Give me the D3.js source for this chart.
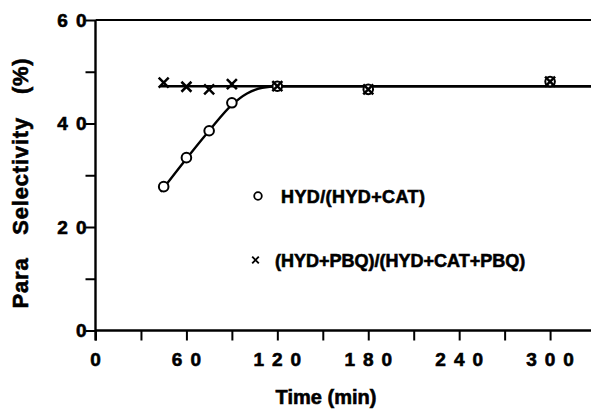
<!DOCTYPE html>
<html>
<head>
<meta charset="utf-8">
<script src="https://cdn.jsdelivr.net/npm/d3@7"></script>
<style>
  body { margin: 0; background: #fff; }
  text { font-family: "Liberation Sans", Arial, sans-serif; font-weight: bold; fill: #000;
         stroke: #000; stroke-width: 0.6px; }
</style>
</head>
<body>
<div id="chart"></div>
<script>
// data
const times = [45, 60, 75, 90, 120, 180, 300];
const hydCat = [27.8, 33.4, 38.6, 44.0, 47.2, 46.6, 48.1];   // circles
const hydPbq = [47.9, 47.1, 46.6, 47.6, 47.2, 46.6, 48.1];   // crosses
// fitted curves
const fitRiseT = [43, 60, 75, 90, 100, 110, 120, 327];
const fitRiseV = [26.8, 33.2, 38.6, 43.6, 45.8, 46.9, 47.2, 47.2];
const fitFlatT = [43, 327];
const fitFlatV = [47.2, 47.2];

const xTicks = [0, 30, 60, 90, 120, 150, 180, 210, 240, 270, 300];
const xLabels = [0, 60, 120, 180, 240, 300];
const yTicks = [0, 10, 20, 30, 40, 50, 60];
const yLabels = [0, 20, 40, 60];

const width = 591, height = 411;

const svg = d3.select('#chart').append('svg')
              .attr('width', width)
              .attr('height', height);

const x = d3.scaleLinear().domain([0, 327]).range([95.5, 591]);
const y = d3.scaleLinear().domain([0, 60]).range([330.5, 20]);

// axes
svg.append('g')
   .attr('transform', `translate(0,${y(0)})`)
   .call(d3.axisBottom(x).tickValues(xTicks).tickSize(10).tickFormat(''))
   .call(g => g.select('.domain').remove());
svg.append('g')
   .attr('transform', `translate(${x(0)},0)`)
   .call(d3.axisLeft(y).tickValues(yTicks).tickSize(10).tickFormat(''))
   .call(g => g.select('.domain').remove());
svg.selectAll('.tick line').attr('stroke', '#000').attr('stroke-width', 2);

// axis lines + top border
const frame = svg.append('g').attr('stroke', '#000').attr('stroke-width', 2.4);
frame.append('line').attr('x1', x(0)).attr('x2', width).attr('y1', y(0)).attr('y2', y(0));
frame.append('line').attr('x1', x(0)).attr('x2', x(0)).attr('y1', y(60)).attr('y2', y(0) + 10);
frame.append('line').attr('x1', x(0)).attr('x2', width).attr('y1', y(60)).attr('y2', y(60))
     .attr('stroke-width', 2);

// tick labels (wide letter spacing as in the print)
const ls = 8;
svg.append('g').selectAll('text')
   .data(xLabels).enter().append('text')
   .attr('x', d => x(d) + ls / 2)
   .attr('y', 365.5)
   .attr('text-anchor', 'middle')
   .style('font-size', '19px')
   .style('letter-spacing', ls + 'px')
   .text(d => d);

svg.append('g').selectAll('text')
   .data(yLabels).enter().append('text')
   .attr('x', x(0) - 9 + ls)
   .attr('y', d => y(d))
   .attr('dy', '0.36em')
   .attr('text-anchor', 'end')
   .style('font-size', '19px')
   .style('letter-spacing', ls + 'px')
   .text(d => d);

// axis titles
svg.append('text')
   .attr('x', 326)
   .attr('y', 404)
   .attr('text-anchor', 'middle')
   .style('font-size', '20px')
   .text('Time (min)');

svg.append('text')
   .attr('transform', 'translate(28,183) rotate(-90)')
   .attr('text-anchor', 'middle')
   .style('font-size', '22px')
   .style('letter-spacing', '0.8px')
   .style('word-spacing', '16px')
   .style('white-space', 'pre')
   .text('Para Selectivity (%)');

// fitted curves
const line = d3.line()
               .x(d => x(d[0]))
               .y(d => y(d[1]))
               .curve(d3.curveMonotoneX);

svg.append('path')
   .datum(fitFlatT.map((t, i) => [t, fitFlatV[i]]))
   .attr('d', line)
   .attr('fill', 'none').attr('stroke', '#000').attr('stroke-width', 2.4);

svg.append('path')
   .datum(fitRiseT.map((t, i) => [t, fitRiseV[i]]))
   .attr('d', line)
   .attr('fill', 'none').attr('stroke', '#000').attr('stroke-width', 2.4);

// markers
function cross(g, cx, cy, s, w) {
    g.append('path')
     .attr('d', `M${cx - s},${cy - s}L${cx + s},${cy + s}M${cx - s},${cy + s}L${cx + s},${cy - s}`)
     .attr('stroke', '#000').attr('stroke-width', w).attr('fill', 'none');
}

const pts = svg.append('g');
pts.selectAll('circle')
   .data(times.map((t, i) => [t, hydCat[i]]))
   .enter().append('circle')
   .attr('cx', d => x(d[0]))
   .attr('cy', d => y(d[1]))
   .attr('r', 4.8)
   .attr('fill', '#fff')
   .attr('stroke', '#000')
   .attr('stroke-width', 2);

times.forEach((t, i) => cross(pts, x(t), y(hydPbq[i]), 5, 2.5));

// legend
svg.append('circle').attr('cx', 258).attr('cy', 196).attr('r', 3.8)
   .attr('fill', 'none').attr('stroke', '#000').attr('stroke-width', 1.8);
svg.append('text').attr('x', 281).attr('y', 202.5)
   .style('font-size', '18px')
   .style('letter-spacing', '0.4px')
   .text('HYD/(HYD+CAT)');

cross(svg, 255.5, 260, 3.3, 1.9);
svg.append('text').attr('x', 275).attr('y', 267)
   .style('font-size', '18px')
   .text('(HYD+PBQ)/(HYD+CAT+PBQ)');
</script>
</body>
</html>
